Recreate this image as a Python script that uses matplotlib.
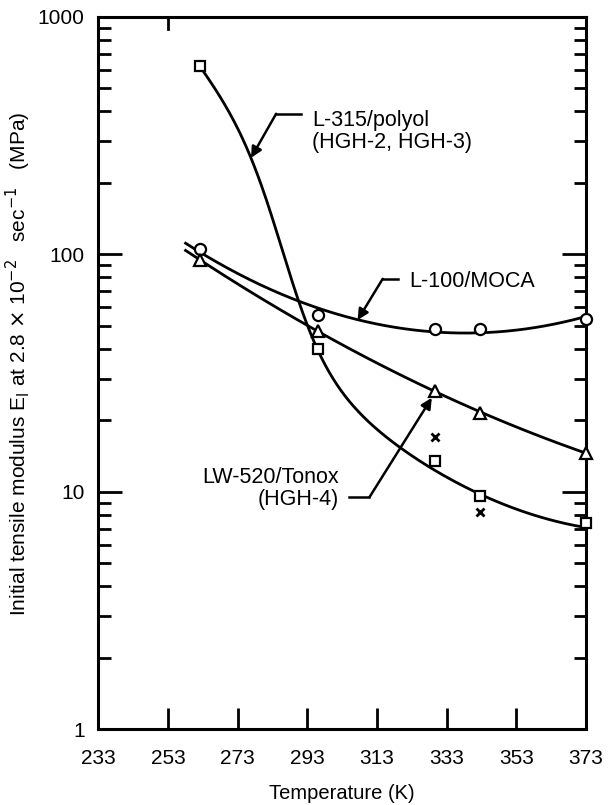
import numpy as np
import matplotlib
matplotlib.use("Agg")
import matplotlib.pyplot as plt
from matplotlib.ticker import FixedLocator, NullFormatter

plt.rcParams['font.family'] = ['Liberation Sans', 'DejaVu Sans']

# temperatures (K) of the measurements
temp = [262, 296, 329.5, 342.5, 373]
# L-315/polyol (HGH-2, HGH-3), squares
l315 = [622, 40.0, 13.5, 9.6, 7.4]
# L-100/MOCA, circles
l100 = [105, 55.6, 48.5, 48.5, 53.5]
# LW-520/Tonox (HGH-4), triangles
lw520 = [94.8, 47.7, 26.6, 21.5, 14.6]
# stray points, crosses
x_temp = [329.5, 342.5]
x_vals = [17.1, 8.2]

# hand-drawn trend line of L-315
l315_curve_t = [262, 276.8, 284.9, 291.2, 296, 305, 319.5, 329, 342.5, 357.8, 373]
l315_curve_v = [622, 255, 115, 58, 40, 24.4, 15.0, 12.7, 9.6, 8.2, 7.0]

xticks = [233, 253, 273, 293, 313, 333, 353, 373]
yticks = [1, 10, 100, 1000]

fig = plt.figure(figsize=(6.08, 8.05), dpi=100)
ax = fig.add_axes([0.162, 0.094, 0.802, 0.885])
ax.set_yscale('log')
ax.set_xlim(233, 373)
ax.set_ylim(1, 1000)


def smooth(t, v, deg, t0):
    # fitted curve in log space
    c = np.polyfit(t, np.log10(v), deg)
    tt = np.linspace(t0, 373, 300)
    return tt, 10 ** np.polyval(c, tt)


def step_fit(t, v):
    # quadratic + tanh step, least squares in log space
    x = np.asarray(t, float)
    y = np.log10(v)
    best = None
    for c0 in np.arange(280, 300, 0.5):
        for w in np.arange(2, 20, 0.5):
            A = np.column_stack([np.ones_like(x), x - 320, (x - 320) ** 2, np.tanh((x - c0) / w)])
            coef, *_ = np.linalg.lstsq(A, y, rcond=None)
            r = np.sum((A @ coef - y) ** 2)
            if best is None or r < best[0]:
                best = (r, c0, w, coef)
    _, c0, w, coef = best
    tt = np.linspace(x[0], x[-1], 400)
    A = np.column_stack([np.ones_like(tt), tt - 320, (tt - 320) ** 2, np.tanh((tt - c0) / w)])
    return tt, 10 ** (A @ coef)


lc = dict(color='black', lw=2.0, zorder=2)
ax.plot(*step_fit(l315_curve_t, l315_curve_v), **lc)
ax.plot(*smooth(temp, l100, 2, 258), **lc)
ax.plot(*smooth(temp, lw520, 2, 258), **lc)

mk = dict(ls='none', mfc='white', mec='black', mew=1.6, zorder=3, clip_on=False)
ax.plot(temp, l315, marker='s', ms=7, **mk)
ax.plot(temp, l100, marker='o', ms=8, **mk)
ax.plot(temp, lw520, marker='^', ms=8, **mk)
ax.plot(x_temp, x_vals, ls='none', marker='x', ms=6, mew=2, color='black')

# labels with bent arrows
arr = dict(arrowstyle='-|>', color='black', lw=1.8, mutation_scale=16, shrinkA=0, shrinkB=0)
ax.annotate('', xy=(276.8, 255), xytext=(284.0, 391), arrowprops=arr)
ax.plot([284.0, 291.2], [391, 391], color='black', lw=1.8)
ax.text(294.4, 330, 'L-315/polyol\n(HGH-2, HGH-3)', fontsize=15.5,
        ha='left', va='center', linespacing=1.05)

ax.annotate('', xy=(307.4, 52.9), xytext=(314.6, 78.9), arrowprops=arr)
ax.plot([314.6, 318.9], [78.9, 78.9], color='black', lw=1.8)
ax.text(322.3, 76.6, 'L-100/MOCA', fontsize=15.5, ha='left', va='center')

ax.annotate('', xy=(328.7, 24.9), xytext=(310.8, 9.5), arrowprops=arr)
ax.plot([305.0, 310.8], [9.5, 9.5], color='black', lw=1.8)
ax.text(301.9, 10.3, 'LW-520/Tonox\n(HGH-4)', fontsize=15.5, ha='right',
        va='center', multialignment='right', linespacing=1.05)

# axes styling
for s in ax.spines.values():
    s.set_linewidth(2.2)
ax.xaxis.set_major_locator(FixedLocator(xticks))
ax.set_xticklabels([str(t) for t in xticks])
ax.yaxis.set_major_locator(FixedLocator(yticks))
ax.set_yticklabels([str(t) for t in yticks])
minor = [m * 10 ** e for e in range(0, 3) for m in range(2, 10)]
ax.yaxis.set_minor_locator(FixedLocator(minor))
ax.yaxis.set_minor_formatter(NullFormatter())
ax.tick_params(axis='y', which='major', direction='in', length=17, width=2,
               left=True, right=True, labelsize=15, pad=10)
ax.tick_params(axis='y', which='minor', direction='in', length=9, width=2,
               left=True, right=True)
ax.tick_params(axis='x', which='major', direction='in', length=15, width=2,
               top=False, labelsize=15, pad=14)
ax.plot([253, 253], [1000, 10 ** 2.95], color='black', lw=2)

ax.set_xlabel('Temperature (K)', fontsize=14.5, labelpad=12)
ax.set_ylabel(r'Initial tensile modulus E$_{\rm I}$ at 2.8 $\times$ 10$^{-2}$   sec$^{-1}$   (MPa)',
              fontsize=15)
ax.yaxis.set_label_coords(-0.135, 0.513)

fig.savefig('out.png', dpi=100)
